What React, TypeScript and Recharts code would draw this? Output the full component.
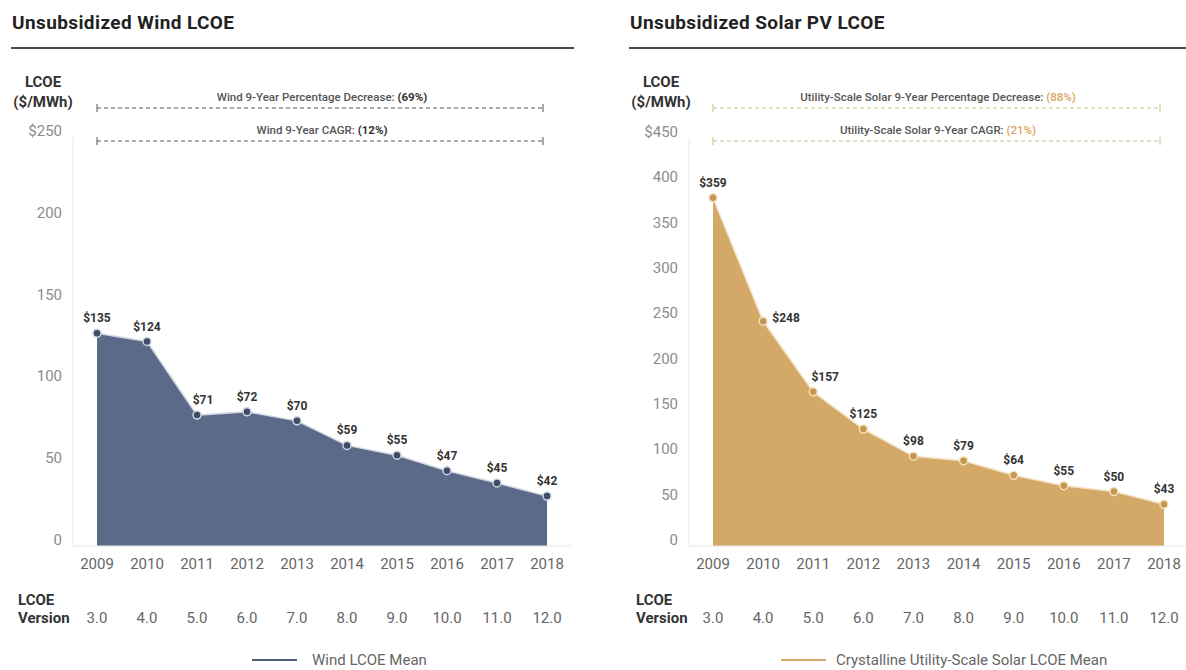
import React from "react";
import { AreaChart, Area, XAxis, YAxis, LabelList } from "recharts";

const years = ["2009", "2010", "2011", "2012", "2013", "2014", "2015", "2016", "2017", "2018"];
const versions = ["3.0", "4.0", "5.0", "6.0", "7.0", "8.0", "9.0", "10.0", "11.0", "12.0"];

// plotted heights; the printed labels differ slightly
const windMean = [130, 125, 80, 82, 76.5, 61.5, 55.5, 46, 38.5, 30.5];
const windLabels = ["$135", "$124", "$71", "$72", "$70", "$59", "$55", "$47", "$45", "$42"];
const windTicks = [0, 50, 100, 150, 200, 250];

const solarMean = [384, 248, 170, 129, 99, 94, 78, 66.5, 60, 46];
const solarLabels = ["$359", "$248", "$157", "$125", "$98", "$79", "$64", "$55", "$50", "$43"];
const solarTicks = [0, 50, 100, 150, 200, 250, 300, 350, 400, 450];

const FONT = "Roboto, 'Noto Sans', sans-serif";

const buildRows = (values: number[], labels: string[]) =>
  years.map((year, i) => ({ year, version: versions[i], mean: values[i], label: labels[i] }));

const windRows = buildRows(windMean, windLabels);
const solarRows = buildRows(solarMean, solarLabels);

const YTick = (props: any) => {
  const { x, y, payload, top } = props;
  return (
    <text x={x} y={y - 6} textAnchor="end" dominantBaseline="central" fill="#8c8c8c" fontSize={15} fontFamily={FONT}>
      {payload.value === top ? `$${payload.value}` : payload.value}
    </text>
  );
};

const makeLabel = (shifts: Record<number, [number, number]>) => (props: any) => {
  const { x, y, index, value } = props;
  const [dx, dy] = shifts[index] ?? [0, 0];
  return (
    <text x={x + dx} y={y - 11 + dy} textAnchor="middle" fontSize={12} fontWeight={700} fill="#333" fontFamily={FONT}>
      {value}
    </text>
  );
};

type PanelProps = {
  rows: any[];
  ticks: number[];
  left: number;
  width: number;
  margin: { top: number; right: number; bottom: number; left: number };
  fill: string;
  edge: string;
  dotFill: string;
  dotStroke: string;
  shifts: Record<number, [number, number]>;
};

const Panel = ({ rows, ticks, left, width, margin, fill, edge, dotFill, dotStroke, shifts }: PanelProps) => {
  const top = ticks[ticks.length - 1];
  return (
    <div style={{ position: "absolute", left, top: 0 }}>
      <AreaChart width={width} height={670} data={rows} margin={margin} style={{ fontFamily: FONT }}>
        <XAxis
          dataKey="year"
          height={30}
          padding={{ left: 24, right: 24 }}
          axisLine={{ stroke: "#e6e6e6" }}
          tickLine={false}
          tickSize={0}
          tickMargin={12}
          tick={{ fill: "#666", fontSize: 15 }}
        />
        <XAxis
          xAxisId="version"
          dataKey="version"
          height={60}
          padding={{ left: 24, right: 24 }}
          axisLine={false}
          tickLine={false}
          tickSize={0}
          tickMargin={36}
          tick={{ fill: "#666", fontSize: 15 }}
        />
        <YAxis
          width={40}
          domain={[0, top]}
          ticks={ticks}
          interval={0}
          axisLine={{ stroke: "#e6e6e6" }}
          tickLine={false}
          tickSize={0}
          tickMargin={11}
          tick={(p: any) => <YTick {...p} top={top} />}
        />
        <Area
          type="linear"
          dataKey="mean"
          fill={fill}
          fillOpacity={1}
          stroke={edge}
          strokeWidth={1.5}
          dot={{ r: 4, fill: dotFill, stroke: dotStroke, strokeWidth: 1.5, fillOpacity: 1 }}
          activeDot={false}
          isAnimationActive={false}
        >
          <LabelList dataKey="label" content={makeLabel(shifts)} />
        </Area>
      </AreaChart>
    </div>
  );
};

const text = (extra: React.CSSProperties): React.CSSProperties => ({
  position: "absolute",
  fontFamily: FONT,
  whiteSpace: "nowrap",
  ...extra,
});

const Bracket = ({ x1, x2, y, color }: { x1: number; x2: number; y: number; color: string }) => (
  <g stroke={color} strokeWidth={1}>
    <line x1={x1} x2={x2} y1={y} y2={y} strokeDasharray="4 3" />
    <line x1={x1} x2={x1} y1={y - 4} y2={y + 4} />
    <line x1={x2} x2={x2} y1={y - 4} y2={y + 4} />
  </g>
);

const PanelFrame = ({ x, title }: { x: number; title: string }) => (
  <>
    <div style={text({ left: x + 12, top: 11, fontSize: 19, lineHeight: "24px", letterSpacing: 0.4, fontWeight: 700, color: "#222" })}>
      {title}
    </div>
    <div style={{ position: "absolute", left: x + 11, top: 47, width: 563, height: 2, background: "#4a4a4a" }} />
    <div style={text({ left: x + 10, top: 72, width: 66, textAlign: "center", fontSize: 15, fontWeight: 700, color: "#333", lineHeight: "20px" })}>
      LCOE
      <br />
      ($/MWh)
    </div>
    <div style={text({ left: x + 18, top: 591, fontSize: 15, fontWeight: 700, color: "#333", lineHeight: "18px" })}>
      LCOE
      <br />
      Version
    </div>
  </>
);

const App = () => {
  return (
    <div style={{ position: "absolute", left: 0, top: 0, width: 1186, height: 670, overflow: "hidden", background: "#fff" }}>
      <Panel
        rows={windRows}
        ticks={windTicks}
        left={0}
        width={590}
        margin={{ top: 137, right: 19, bottom: 34, left: 33 }}
        fill="#5a6a88"
        edge="#d3d9e3"
        dotFill="#3e4c68"
        dotStroke="#cfd5e1"
        shifts={{ 2: [6, 0] }}
      />
      <Panel
        rows={solarRows}
        ticks={solarTicks}
        left={600}
        width={588}
        margin={{ top: 138, right: 0, bottom: 34, left: 49 }}
        fill="#d4a867"
        edge="#f3e3c4"
        dotFill="#c4964f"
        dotStroke="#f4e2bf"
        shifts={{ 1: [23, 12], 2: [12, 0] }}
      />

      <PanelFrame x={0} title="Unsubsidized Wind LCOE" />
      <PanelFrame x={618} title="Unsubsidized Solar PV LCOE" />

      <svg width={1186} height={670} style={{ position: "absolute", left: 0, top: 0, pointerEvents: "none" }}>
        <Bracket x1={97} x2={543} y={108} color="#555" />
        <Bracket x1={97} x2={543} y={141} color="#555" />
        <Bracket x1={713} x2={1160} y={108} color="#c9bd93" />
        <Bracket x1={713} x2={1160} y={141} color="#c9bd93" />
        <g fontFamily={FONT} fontSize={11.5} textAnchor="middle">
          <text x={322} y={101} fill="#555" fontWeight={500}>
            Wind 9-Year Percentage Decrease: <tspan fontWeight={700} fill="#333">(69%)</tspan>
          </text>
          <text x={322} y={134} fill="#555" fontWeight={500}>
            Wind 9-Year CAGR: <tspan fontWeight={700} fill="#333">(12%)</tspan>
          </text>
          <text x={938} y={101} fill="#555" fontWeight={500}>
            Utility-Scale Solar 9-Year Percentage Decrease: <tspan fill="#d9a55a">(88%)</tspan>
          </text>
          <text x={938} y={134} fill="#555" fontWeight={500}>
            Utility-Scale Solar 9-Year CAGR: <tspan fill="#d9a55a">(21%)</tspan>
          </text>
        </g>
        <line x1={252} x2={297} y1={660} y2={660} stroke="#4e5d7a" strokeWidth={2} />
        <line x1={781} x2={826} y1={660} y2={660} stroke="#d4a867" strokeWidth={2} />
        <g fontFamily={FONT} fontSize={15} fill="#666" dominantBaseline="central">
          <text x={312} y={660}>Wind LCOE Mean</text>
          <text x={836} y={660}>Crystalline Utility-Scale Solar LCOE Mean</text>
        </g>
      </svg>
    </div>
  );
};

export default App;
